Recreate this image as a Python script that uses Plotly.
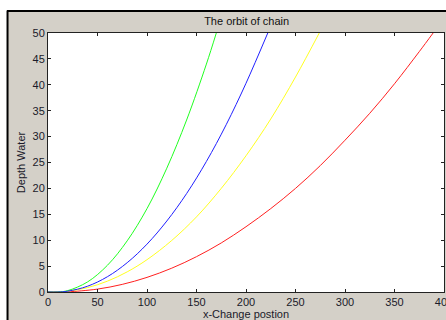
import plotly.graph_objects as go

# Data
green_x = [0, 10, 20, 40, 60, 80, 100, 120, 140, 160, 170]
green_y = [0, 0, 0.27, 1.95, 5.15, 9.88, 16.1, 23.9, 33.2, 44.0, 50]

blue_x = [0, 10, 20, 40, 60, 80, 100, 120, 140, 160, 180, 200, 222]
blue_y = [0, 0, 0.16, 1.12, 2.95, 5.66, 9.24, 13.7, 19.0, 25.2, 32.3, 40.3, 50]

yellow_x = [0, 5, 20, 40, 60, 80, 100, 125, 150, 175, 200, 225, 250, 274]
yellow_y = [0, 0, 0.16, 0.85, 2.09, 3.89, 6.24, 9.95, 14.5, 20.0, 26.3, 33.4, 41.5, 50]

red_x = [0, 10, 20, 50, 75, 100, 125, 150, 175, 200, 225, 250, 275, 300, 325, 350, 375, 389]
red_y = [0, 0, 0.035, 0.56, 1.47, 2.82, 4.6, 6.82, 9.47, 12.6, 16.1, 20.0, 24.4, 29.3, 34.5, 40.2, 46.4, 50]

x_ticks = [0, 50, 100, 150, 200, 250, 300, 350, 400]
y_ticks = [0, 5, 10, 15, 20, 25, 30, 35, 40, 45, 50]

title_text = "The orbit of chain"
x_label = "x-Change postion"
y_label = "Depth Water"

fig = go.Figure()
for xs, ys, col in [(red_x, red_y, "#ff2020"), (yellow_x, yellow_y, "#ffff20"),
                    (green_x, green_y, "#20ff20"), (blue_x, blue_y, "#2020ff")]:
    fig.add_trace(go.Scatter(x=xs, y=ys, mode="lines", line=dict(color=col, width=1, shape="spline"),
                             showlegend=False, hoverinfo="skip"))

font = dict(family="Liberation Sans, Arial, sans-serif", size=11, color="#1a1a2a")
axis_common = dict(showgrid=False, zeroline=False, showline=True, linecolor="#222222", linewidth=1,
                   mirror="ticks", ticks="inside", ticklen=3, tickcolor="#222222", tickfont=font,
                   ticklabeloverflow="allow")

fig.update_layout(
    width=446, height=320,
    margin=dict(l=48, r=2, t=33, b=28, autoexpand=False),
    paper_bgcolor="#d4d0c8", plot_bgcolor="white",
    font=font,
    title=dict(text=title_text, x=0.553, xanchor="center", y=0.934, yanchor="middle",
               font=dict(family="Liberation Sans, Arial, sans-serif", size=11, color="#111")),
    xaxis=dict(range=[0, 400], tickvals=x_ticks, automargin=False,
               title=dict(text=x_label, standoff=0, font=font), **axis_common),
    yaxis=dict(range=[0, 50], tickvals=y_ticks, automargin=False,
               title=dict(text=y_label, standoff=4, font=font), **axis_common),
    shapes=[
        dict(type="rect", xref="paper", yref="paper", x0=-0.2, x1=1.1, y0=1.087, y1=1.3,
             fillcolor="white", line=dict(width=0), layer="above"),
        dict(type="rect", xref="paper", yref="paper", x0=-0.2, x1=-0.1035, y0=-0.2, y1=1.3,
             fillcolor="white", line=dict(width=0), layer="above"),
        dict(type="line", xref="paper", yref="paper", x0=-0.1035, x1=1.1, y0=1.085, y1=1.085,
             line=dict(color="black", width=2), layer="above"),
        dict(type="line", xref="paper", yref="paper", x0=-0.1022, x1=-0.1022, y0=-0.2, y1=1.087,
             line=dict(color="black", width=2), layer="above"),
    ],
)

fig.write_html("out.html", config={"displayModeBar": False},
               post_script="document.body.style.margin='0';document.body.style.overflow='hidden';")
